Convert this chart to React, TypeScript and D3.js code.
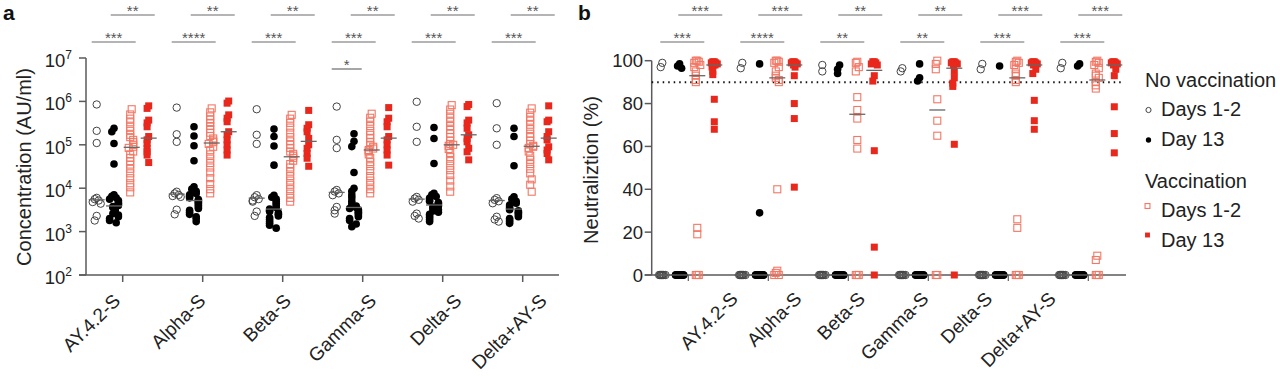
import React from 'react';
import * as d3 from 'd3';

const categories = ['AY.4.2-S', 'Alpha-S', 'Beta-S', 'Gamma-S', 'Delta-S', 'Delta+AY-S'];

// Panel a: antibody concentration (AU/ml), per category
const concNoVaxD12: number[][] = [
  [850000, 210000, 110000, 6000, 5600, 5200, 4800, 4400, 2300, 1800],
  [720000, 175000, 117000, 8300, 7600, 7000, 6600, 6300, 3200, 2500],
  [660000, 170000, 105000, 6900, 6200, 5600, 5200, 4900, 2900, 2300],
  [760000, 130000, 84000, 9100, 8400, 7600, 6900, 3700, 3100, 2600],
  [980000, 260000, 117000, 6300, 5800, 5400, 4900, 2600, 2300, 2000],
  [910000, 240000, 100000, 5900, 5400, 5000, 4500, 2200, 1900, 1700],
];
const concNoVaxD13: number[][] = [
  [240000, 200000, 107000, 36000, 7000, 6500, 6000, 5600, 5200, 4800, 4500, 4200, 4000, 3800, 3600, 3500, 3300, 3100, 3000, 2800, 2600, 2400, 2200, 2000, 1800, 1600],
  [260000, 160000, 95000, 43000, 10700, 9500, 8500, 7500, 7000, 6500, 6000, 5500, 5200, 4900, 4600, 4300, 4000, 3700, 3400, 3100, 2800, 2500, 2200, 2000, 1700],
  [230000, 155000, 94000, 34000, 6900, 6200, 5600, 5000, 4500, 4000, 3600, 3300, 3100, 2900, 2700, 2500, 2300, 2100, 1900, 1700, 1550, 1400, 1200],
  [180000, 120000, 91000, 23000, 10000, 8500, 7000, 6000, 5000, 4300, 3900, 3600, 3400, 3200, 3000, 2800, 2600, 2400, 2200, 2000, 1800, 1500, 1300],
  [250000, 140000, 37000, 7600, 7000, 6400, 5900, 5400, 5000, 4700, 4400, 4100, 3900, 3700, 3500, 3200, 3000, 2800, 2500, 2300, 2100, 1900, 1700],
  [240000, 155000, 33000, 6300, 5600, 5000, 4500, 4100, 3700, 3400, 3200, 3000, 2800, 2600, 2400, 2200, 2000, 1850, 1700, 1550],
];
const concVaxD12: number[][] = [
  [660000, 500000, 400000, 330000, 260000, 210000, 170000, 150000, 130000, 115000, 100000, 90000, 85000, 70000, 60000, 50000, 42000, 35000, 28000, 22000, 17000, 13000, 10500, 8000],
  [690000, 560000, 450000, 380000, 320000, 270000, 230000, 190000, 160000, 140000, 125000, 115000, 105000, 90000, 75000, 60000, 48000, 38000, 30000, 23000, 17000, 12500, 9500, 7600],
  [490000, 400000, 320000, 250000, 190000, 150000, 120000, 100000, 85000, 70000, 62000, 56000, 50000, 43000, 36000, 30000, 24000, 19000, 15000, 12000, 9500, 7500, 6000, 4900],
  [520000, 420000, 340000, 270000, 210000, 170000, 140000, 115000, 100000, 90000, 82000, 76000, 70000, 60000, 50000, 40000, 32000, 25000, 19000, 15000, 12000, 9500, 7600],
  [820000, 650000, 520000, 420000, 340000, 270000, 220000, 180000, 150000, 125000, 105000, 100000, 95000, 80000, 65000, 52000, 42000, 33000, 26000, 20000, 15000, 11000, 8300],
  [690000, 550000, 440000, 360000, 290000, 230000, 180000, 150000, 125000, 105000, 95000, 90000, 85000, 70000, 56000, 45000, 36000, 28000, 22000, 16000, 12000, 8300],
];
const concVaxD13: number[][] = [
  [790000, 690000, 370000, 320000, 260000, 155000, 130000, 107000, 83000, 69000, 58000, 39000],
  [1020000, 910000, 490000, 410000, 340000, 200000, 170000, 130000, 100000, 76000, 58000],
  [620000, 290000, 240000, 200000, 140000, 100000, 83000, 63000, 49000, 32000],
  [720000, 410000, 340000, 260000, 155000, 130000, 100000, 76000, 58000, 34000],
  [850000, 760000, 370000, 320000, 240000, 170000, 140000, 117000, 83000, 69000, 45000],
  [790000, 370000, 340000, 200000, 155000, 130000, 90000, 76000, 63000, 45000],
];

// Panel b: neutralization (%), per category
const neutNoVaxD12: number[][] = [
  [99, 97, 0, 0, 0, 0, 0, 0, 0, 0],
  [99, 96.5, 0, 0, 0, 0, 0, 0, 0, 0],
  [98, 95, 0, 0, 0, 0, 0, 0, 0, 0],
  [96.5, 95, 0, 0, 0, 0, 0, 0, 0, 0],
  [98.5, 96, 0, 0, 0, 0, 0, 0, 0, 0],
  [99, 96.5, 0, 0, 0, 0, 0, 0, 0, 0],
];
const neutNoVaxD13: number[][] = [
  [98.5, 97.5, 96.5, 0, 0, 0, 0, 0, 0, 0, 0, 0, 0, 0, 0, 0, 0, 0, 0, 0],
  [98.5, 29, 0, 0, 0, 0, 0, 0, 0, 0, 0, 0, 0, 0, 0, 0, 0, 0, 0, 0],
  [98, 96, 94, 0, 0, 0, 0, 0, 0, 0, 0, 0, 0, 0, 0, 0, 0, 0, 0, 0],
  [98.5, 92, 90.5, 0, 0, 0, 0, 0, 0, 0, 0, 0, 0, 0, 0, 0, 0, 0, 0, 0],
  [97.5, 0, 0, 0, 0, 0, 0, 0, 0, 0, 0, 0, 0, 0, 0, 0, 0, 0, 0, 0],
  [98.5, 97.5, 0, 0, 0, 0, 0, 0, 0, 0, 0, 0, 0, 0, 0, 0, 0, 0, 0, 0],
];
const neutVaxD12: number[][] = [
  [100, 100, 99.5, 99, 98, 97, 95, 93, 91, 90, 22, 19, 0, 0, 0],
  [100, 100, 99.5, 99, 97, 95, 93, 92, 91, 90, 40, 2, 1, 0, 0],
  [99.5, 99, 97, 95, 83, 77, 73, 63, 59, 0, 0, 0],
  [100, 98.5, 96, 82, 72, 65, 0, 0],
  [100, 99.5, 99, 98, 96, 94, 93, 91, 90, 26, 22, 0, 0, 0],
  [100, 99.5, 99, 98, 96.5, 94, 93, 92, 90, 88.5, 87, 9, 7, 0, 0, 0],
];
const neutVaxD13: number[][] = [
  [99.5, 99.5, 99, 99, 98.5, 98, 98, 97, 95, 93.5, 82, 71.5, 68],
  [99.5, 99.5, 99, 99, 98.5, 98, 97, 93, 80, 73, 41],
  [99.5, 99.5, 99, 98.5, 98, 93, 90.5, 58, 13, 0],
  [99.5, 99.5, 99, 99, 98.5, 98, 95, 92, 89.5, 88, 61, 0],
  [99.5, 99.5, 99, 99, 98.5, 98, 96, 94, 81.5, 72, 68],
  [99.5, 99.5, 99, 99, 98.5, 98, 96, 93, 78.5, 66, 57],
];

const sigA1 = ['**', '**', '**', '**', '**', '**'];
const sigA2 = ['***', '****', '***', '***', '***', '***'];
const sigA3 = ['', '', '', '*', '', ''];
const sigB1 = ['***', '***', '**', '**', '***', '***'];
const sigB2 = ['***', '****', '**', '**', '***', '***'];

const logTickExps = [2, 3, 4, 5, 6, 7];
const pctTicks = [0, 20, 40, 60, 80, 100];
const thresholdPct = 90;

const FONT = 'Liberation Sans, Arial, Helvetica, sans-serif';
const RED = '#e8281c';
const SALMON = '#f27866';
const AXIS = '#5a5a5a';
const colOffsets = [-26, -8.7, 9, 26];
type Kind = 'circleOpen' | 'dot' | 'squareOpen' | 'square';
const kinds: Kind[] = ['circleOpen', 'dot', 'squareOpen', 'square'];

function place(vals: number[], y: (v: number) => number, step: number, minDy: number) {
  const placed: number[] = [];
  const pattern = [0, -1, 1, -2, 2, -0.5, 0.5, -1.5, 1.5];
  return vals.map((v) => {
    const yy = y(v);
    const k = placed.filter((p) => Math.abs(p - yy) < minDy).length;
    placed.push(yy);
    return { v, y: yy, dx: pattern[k % pattern.length] * step };
  });
}

function Marker({ kind, x, y, s = 1 }: { kind: Kind; x: number; y: number; s?: number }) {
  if (kind === 'circleOpen')
    return <circle cx={x} cy={y} r={3.7 * s} fill="none" stroke="#444" strokeWidth={1} />;
  if (kind === 'dot') return <circle cx={x} cy={y} r={3.8 * s} fill="#000" />;
  const a = 7 * s;
  if (kind === 'squareOpen')
    return <rect x={x - a / 2} y={y - a / 2} width={a} height={a} fill="none" stroke={SALMON} strokeWidth={1.1} />;
  return <rect x={x - a / 2} y={y - a / 2} width={a} height={a} fill={RED} />;
}

function Points({ series, x, y, steps }: { series: number[][][]; x: (i: number) => number; y: (v: number) => number; steps: number[] }) {
  const out: React.ReactNode[] = [];
  const meds: React.ReactNode[] = [];
  categories.forEach((_, ci) => {
    series.forEach((s, si) => {
      const cx = x(ci) + colOffsets[si];
      const pts = place(s[ci], y, steps[si], 6);
      pts.forEach((p, pi) => out.push(<Marker key={`${ci}-${si}-${pi}`} kind={kinds[si]} x={cx + p.dx} y={p.y} />));
      const m = d3.median(s[ci]) as number;
      meds.push(<line key={`m${ci}-${si}`} x1={cx - 8} x2={cx + 8} y1={y(m)} y2={y(m)} stroke="#666" strokeWidth={1.3} />);
    });
  });
  return <g>{out}{meds}</g>;
}

function Brackets({ x, rows }: { x: (i: number) => number; rows: { y: number; x0: number; x1: number; labels: string[] }[] }) {
  return (
    <g>
      {rows.map((r, ri) =>
        categories.map((_, ci) =>
          r.labels[ci] ? (
            <g key={`${ri}-${ci}`}>
              <line x1={x(ci) + r.x0} x2={x(ci) + r.x1} y1={r.y} y2={r.y} stroke="#6a6a6a" strokeWidth={1.2} />
              <text x={x(ci) + (r.x0 + r.x1) / 2} y={r.y + 1} textAnchor="middle" fontSize={15} fill="#555" fontFamily={FONT}>
                {r.labels[ci]}
              </text>
            </g>
          ) : null
        )
      )}
    </g>
  );
}

export default function App() {
  const xA = d3.scaleLinear().domain([0, 5]).range([122.7, 522.7]);
  const yA = d3.scaleLog().domain([1e2, 1e7]).range([275, 58]);
  const xALabel = d3.scaleLinear().domain([0, 5]).range([121.5, 548]);
  const xB = d3.scaleLinear().domain([0, 5]).range([688.3, 1088.3]);
  const yB = d3.scaleLinear().domain([0, 100]).range([275, 60.7]);
  const xBLabel = d3.scaleLinear().domain([0, 5]).range([739, 1057]);

  const axisA = { x: 86, xEnd: 559 };
  const axisB = { x: 651.7, xEnd: 1126 };

  return (
    <svg width={1280} height={376} style={{ position: 'absolute', left: 0, top: 0, background: '#fff' }} fontFamily={FONT}>
      {/* Panel labels */}
      <text x={3} y={20} fontSize={21} fontWeight="bold" fill="#111">a</text>
      <text x={578} y={20} fontSize={21} fontWeight="bold" fill="#111">b</text>

      {/* ===== Panel a ===== */}
      <line x1={axisA.x} x2={axisA.x} y1={yA(1e7)} y2={yA(1e2)} stroke={AXIS} strokeWidth={1.5} />
      <line x1={axisA.x - 7} x2={axisA.xEnd} y1={yA(1e2)} y2={yA(1e2)} stroke={AXIS} strokeWidth={1.5} />
      {logTickExps.map((e) => (
        <g key={e}>
          <line x1={axisA.x - 7} x2={axisA.x} y1={yA(10 ** e)} y2={yA(10 ** e)} stroke={AXIS} strokeWidth={1.5} />
          <text x={72} y={yA(10 ** e) + 9} textAnchor="end" fontSize={18.5} fill="#222">
            10<tspan dy={-8} fontSize={12}>{e}</tspan>
          </text>
        </g>
      ))}
      {categories.map((c, i) => (
        <g key={c}>
          <line x1={xA(i)} x2={xA(i)} y1={275} y2={282} stroke={AXIS} strokeWidth={1.5} />
          <text transform={`translate(${xALabel(i)},302) rotate(-45)`} textAnchor="end" fontSize={19} fill="#222">{c}</text>
        </g>
      ))}
      <text transform={`translate(31,167) rotate(-90)`} textAnchor="middle" fontSize={20} fill="#222">Concentration (AU/ml)</text>
      <Points series={[concNoVaxD12, concNoVaxD13, concVaxD12, concVaxD13]} x={xA} y={(v) => yA(v)} steps={[2, 2.2, 1.5, 1.6]} />
      <Brackets
        x={xA}
        rows={[
          { y: 15, x0: -12, x1: 32, labels: sigA1 },
          { y: 42, x0: -31, x1: 13, labels: sigA2 },
          { y: 69, x0: -31, x1: -1, labels: sigA3 },
        ]}
      />

      {/* ===== Panel b ===== */}
      <line x1={axisB.x} x2={axisB.x} y1={yB(100)} y2={yB(0)} stroke={AXIS} strokeWidth={1.5} />
      <line x1={axisB.x - 7} x2={axisB.xEnd} y1={yB(0)} y2={yB(0)} stroke={AXIS} strokeWidth={1.5} />
      {pctTicks.map((t) => (
        <g key={t}>
          <line x1={axisB.x - 7} x2={axisB.x} y1={yB(t)} y2={yB(t)} stroke={AXIS} strokeWidth={1.5} />
          <text x={643} y={yB(t) + 6.5} textAnchor="end" fontSize={18.5} fill="#222">{t}</text>
        </g>
      ))}
      {categories.map((c, i) => (
        <g key={c}>
          <line x1={xB(i)} x2={xB(i)} y1={275} y2={281} stroke={AXIS} strokeWidth={1.2} />
          <text transform={`translate(${xBLabel(i)},300) rotate(-45)`} textAnchor="end" fontSize={19} fill="#222">{c}</text>
        </g>
      ))}
      <text transform={`translate(598,170) rotate(-90)`} textAnchor="middle" fontSize={20} fill="#222">Neutraliztion (%)</text>
      <line x1={axisB.x} x2={1122} y1={yB(thresholdPct)} y2={yB(thresholdPct)} stroke="#111" strokeWidth={2} strokeDasharray="1.5 4" />
      <Points series={[neutNoVaxD12, neutNoVaxD13, neutVaxD12, neutVaxD13]} x={xB} y={(v) => yB(v)} steps={[1.6, 2, 1.5, 1.5]} />
      <Brackets
        x={xB}
        rows={[
          { y: 15, x0: -10, x1: 34, labels: sigB1 },
          { y: 42, x0: -28, x1: 16, labels: sigB2 },
        ]}
      />

      {/* ===== Legend ===== */}
      <g fontSize={20} fill="#222">
        <text x={1145} y={87}>No vaccination</text>
        <Marker kind="circleOpen" x={1148.5} y={110} s={0.7} />
        <text x={1161} y={116}>Days 1-2</text>
        <Marker kind="dot" x={1148.5} y={140} s={0.7} />
        <text x={1161} y={146}>Day 13</text>
        <text x={1145} y={188}>Vaccination</text>
        <Marker kind="squareOpen" x={1147.5} y={206} s={0.7} />
        <text x={1161} y={217}>Days 1-2</text>
        <Marker kind="square" x={1147.5} y={235} s={0.7} />
        <text x={1161} y={247}>Day 13</text>
      </g>
    </svg>
  );
}
